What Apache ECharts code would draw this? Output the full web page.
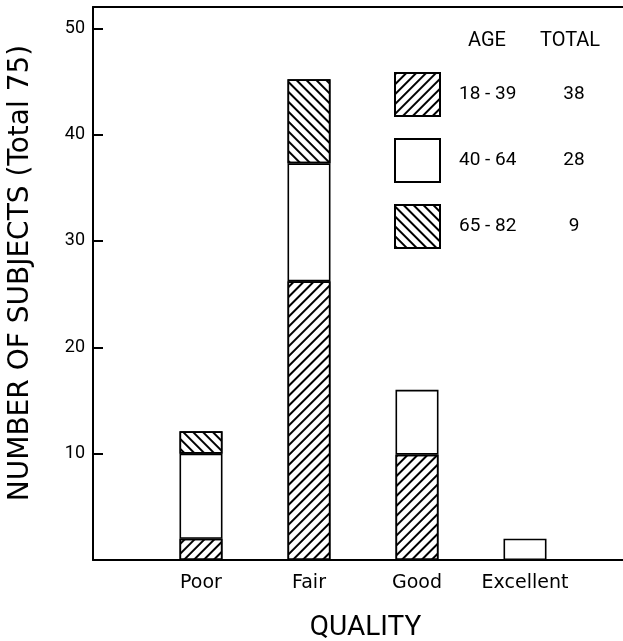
<!DOCTYPE html>
<html>
<head>
<meta charset="utf-8">
<script src="https://cdn.jsdelivr.net/npm/echarts@6/dist/echarts.min.js"></script>
<style>
html,body{margin:0;padding:0;background:#fff;}
#chart{width:623px;height:641px;}
</style>
</head>
<body>
<div id="chart"></div>
<script>
// ---- data ----
const categories = ['Poor', 'Fair', 'Good', 'Excellent'];
const ageGroups = ['18 - 39', '40 - 64', '65 - 82'];
const groupTotals = [38, 28, 9];
const age18to39 = [2, 26.2, 9.9, 0];
const age40to64 = [8, 11.1, 6.1, 2];
const age65to82 = [2.1, 7.9, 0, 0];
const yTicks = [10, 20, 30, 40, 50];

const seriesValues = [age18to39, age40to64, age65to82];
const FONT = 'Roboto';
const FONT2 = 'DejaVu Sans';
// padded category list: empty slot before and after, so the axis spans the full frame
const axisCats = [''].concat(categories, ['']);

const decalUp = { symbol: 'rect', symbolSize: 1, color: '#000', backgroundColor: 'rgba(0,0,0,0)',
  dashArrayX: [1, 0], dashArrayY: [1.4, 4.4], rotation: -Math.PI / 4 };
const decalDown = { symbol: 'rect', symbolSize: 1, color: '#000', backgroundColor: 'rgba(0,0,0,0)',
  dashArrayX: [1, 0], dashArrayY: [1.4, 4.6], rotation: Math.PI / 4 };
const decals = [decalUp, null, decalDown];

const chart = echarts.init(document.getElementById('chart'));
const series = ageGroups.map((name, i) => ({
  name: name,
  type: 'bar',
  stack: 'q',
  barWidth: 43,
  clip: false,
  data: ['-'].concat(seriesValues[i].map(v => (v > 0 ? v : '-')), ['-']),
  itemStyle: Object.assign({ color: '#fff', borderColor: '#000', borderWidth: 1.6 },
    decals[i] ? { decal: decals[i] } : {}),
  emphasis: { disabled: true }
}));

chart.setOption({
  animation: false,
  backgroundColor: '#fff',
  textStyle: { fontFamily: FONT, color: '#000' },
  title: [
    { text: 'AGE', left: 468, top: 31, padding: 0,
      textStyle: { fontFamily: FONT, fontSize: 20, fontWeight: 'normal', color: '#000' } },
    { text: 'TOTAL', left: 540, top: 31, padding: 0,
      textStyle: { fontFamily: FONT, fontSize: 20, fontWeight: 'normal', color: '#000' } }
  ],
  grid: { left: 93, right: -10, top: 7, bottom: 81, containLabel: false, outerBoundsMode: 'none' },
  legend: {
    orient: 'vertical', left: 394, top: 72, padding: 0,
    itemWidth: 45, itemHeight: 43, itemGap: 21,
    icon: 'rect', selectedMode: false,
    data: ageGroups,
    formatter: function (name) {
      const idx = ageGroups.indexOf(name);
      return '{a|' + name + '}{b|' + groupTotals[idx] + '}';
    },
    textStyle: {
      fontFamily: FONT, fontSize: 19, color: '#000',
      rich: {
        a: { fontFamily: FONT, fontSize: 19, color: '#000', width: 90, padding: [0, 0, 0, 14] },
        b: { fontFamily: FONT, fontSize: 19, color: '#000', width: 50, align: 'center' }
      }
    }
  },
  xAxis: [
    {
      type: 'category', data: axisCats, boundaryGap: false,
      name: 'QUALITY', nameLocation: 'middle', nameGap: 54,
      nameTextStyle: { fontFamily: FONT, fontSize: 28, color: '#000', padding: [0, 0, 0, 5] },
      axisLine: { show: true, lineStyle: { color: '#000', width: 2 } },
      axisTick: { show: false },
      splitLine: { show: false },
      axisLabel: { interval: 0, margin: 14, fontFamily: FONT2, fontSize: 19, color: '#000' }
    },
    {
      type: 'category', data: axisCats, boundaryGap: false, position: 'top',
      axisLine: { show: true, onZero: false, lineStyle: { color: '#000', width: 2 } },
      axisTick: { show: false }, axisLabel: { show: false }, splitLine: { show: false }
    }
  ],
  yAxis: {
    type: 'value', min: 0, max: 52, interval: 10,
    name: 'NUMBER OF SUBJECTS (Total 75)', nameLocation: 'middle', nameGap: 58,
    nameTextStyle: { fontFamily: FONT2, fontSize: 28, color: '#000', padding: [0, 0, 0, 21] },
    axisLine: { show: true, lineStyle: { color: '#000', width: 2 } },
    axisTick: { show: true, inside: true, length: 10, lineStyle: { color: '#000', width: 2 } },
    splitLine: { show: false },
    axisLabel: {
      margin: 8, fontFamily: FONT, fontSize: 18, color: '#000',
      formatter: function (v) { return yTicks.indexOf(v) >= 0 ? String(v) : ''; }
    }
  },
  series: series
});
</script>
</body>
</html>
